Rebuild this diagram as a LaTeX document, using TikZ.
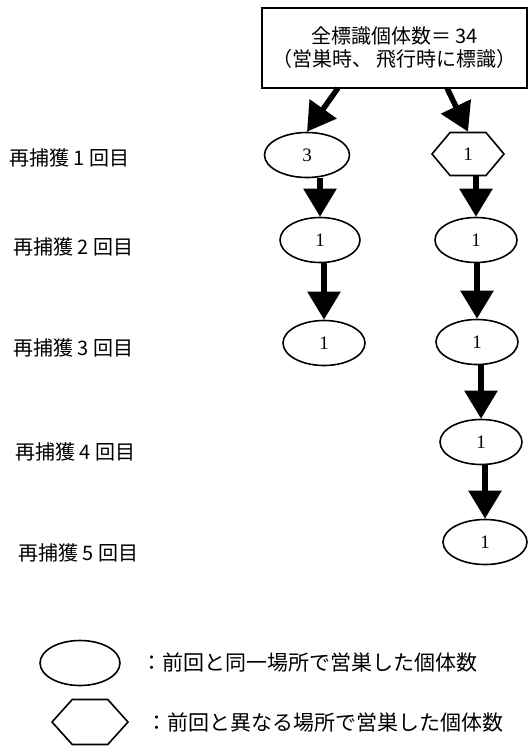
\documentclass[tikz,border=0pt]{standalone}
\usepackage{fontspec}
\setmainfont{Liberation Serif}
\newfontfamily\jp{Noto Sans CJK JP}
\usetikzlibrary{shapes.geometric,shapes.symbols,arrows.meta}
\tikzset{
  oval/.style={draw,line width=1.6pt,ellipse,inner sep=0pt,minimum width=82pt,minimum height=45pt,font=\fontsize{19}{21}\selectfont},
  hexa/.style={draw,line width=1.6pt,signal,signal to=east and west,signal pointer angle=100,inner sep=0pt,minimum width=72pt,minimum height=43pt,font=\fontsize{19}{21}\selectfont},
  lbl/.style={anchor=west,inner sep=0pt,font=\jp\fontsize{20}{24}\selectfont},
  bigarrow/.style={line width=5.5pt,-{Triangle[width=32pt,length=28pt]}},
}
\begin{document}
\begin{tikzpicture}[x=1pt,y=-1pt]
\useasboundingbox (0,0) rectangle (530,747);
\node[draw,line width=2pt,minimum width=265pt,minimum height=80pt,align=center,font=\jp\fontsize{20}{23}\selectfont] (box) at (394.5,48) {全標識個体数＝ 34\\（営巣時、 飛行時に標識）};
\coordinate (bl) at (338,88);
\coordinate (br) at (447,88);
\node[oval,minimum width=85pt] (l1) at (307,155) {3};
\node[hexa] (r1) at (468,154) {1};
\node[oval,minimum width=80pt] (l2) at (320,240) {1};
\node[oval] (r2) at (476,240) {1};
\node[oval] (l3) at (324,343) {1};
\node[oval] (r3) at (477,342) {1};
\node[oval] (r4) at (481,442) {1};
\node[oval,minimum width=84pt] (r5) at (485,542) {1};
\draw[bigarrow] (bl) -- (l1.north);
\draw[bigarrow] (br) -- (r1.north);
\draw[bigarrow] (l1.south -| l2.north) -- (l2.north);
\draw[bigarrow] (l2.south -| l3.north) -- (l3.north);
\draw[bigarrow] (r1.south -| r2.north) -- (r2.north);
\draw[bigarrow] (r2.south -| r3.north) -- (r3.north);
\draw[bigarrow] (r3.south -| r4.north) -- (r4.north);
\draw[bigarrow] (r4.south -| r5.north) -- (r5.north);
\node[lbl] (t1) at (9,158) {再捕獲 1 回目};
\node[lbl] (t2) at (13,247) {再捕獲 2 回目};
\node[lbl] (t3) at (13,348) {再捕獲 3 回目};
\node[lbl] (t4) at (15,452) {再捕獲 4 回目};
\node[lbl] (t5) at (18,553) {再捕獲 5 回目};
\node[oval,minimum width=80pt,minimum height=45pt] (k1) at (80,663) {};
\node[hexa,minimum width=76pt,minimum height=45pt,signal pointer angle=96] (k2) at (90,722) {};
\node[lbl,font=\jp\fontsize{21}{24}\selectfont] (kt1) at (141,663) {：前回と同一場所で営巣した個体数};
\node[lbl,font=\jp\fontsize{21}{24}\selectfont] (kt2) at (146,722) {：前回と異なる場所で営巣した個体数};
\end{tikzpicture}
\end{document}
